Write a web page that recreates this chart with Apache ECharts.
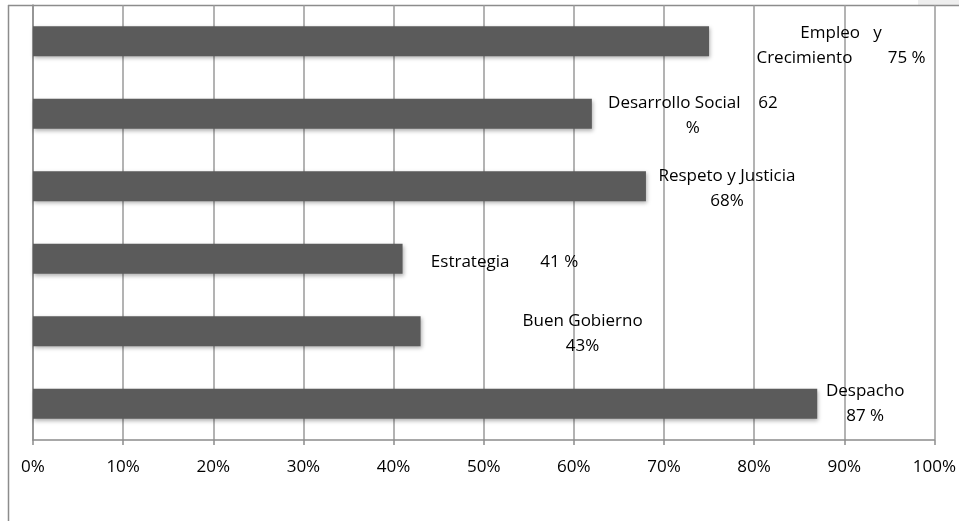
<!DOCTYPE html>
<html>
<head>
<meta charset="utf-8">
<style>
  html, body { margin: 0; padding: 0; background: #ffffff; }
  #chart { width: 959px; height: 521px; }
</style>
<script src="https://cdn.jsdelivr.net/npm/echarts@6/dist/echarts.min.js"></script>
</head>
<body>
<div id="chart"></div>
<script>
// Programme areas, listed top to bottom
const categories = ['Empleo y Crecimiento', 'Desarrollo Social', 'Respeto y Justicia', 'Estrategia', 'Buen Gobierno', 'Despacho'];
// Share of progress per area (percent)
const values = [75, 62, 68, 41, 43, 87];
// Label wording per bar; {v} is replaced by the bar's value
const labelTemplates = [
  'Empleo   y\nCrecimiento        {v} %',
  'Desarrollo Social    {v}\n%',
  'Respeto y Justicia\n{v}%',
  'Estrategia       {v} %',
  'Buen Gobierno\n{v}%',
  'Despacho\n{v} %'
];
// Value-axis ticks (percent)
const tickValues = [0, 10, 20, 30, 40, 50, 60, 70, 80, 90, 100];

// Label placement relative to each bar's end: [dx, dy]
const labelOffsets = [[132, 4], [101, 2], [81, 2], [102, 3], [162, 2], [48, 0]];

const FONT = '"Open Sans", "Noto Sans", sans-serif';
const chart = echarts.init(document.getElementById('chart'), null, { renderer: 'canvas' });

const seriesData = values.map((v, i) => ({
  value: v,
  label: {
    offset: labelOffsets[i],
    formatter: labelTemplates[i].replace('{v}', String(v))
  }
}));

chart.setOption({
  animation: false,
  backgroundColor: '#ffffff',
  grid: { left: 33, right: 19, top: 5, bottom: 81, containLabel: false },
  xAxis: {
    type: 'value',
    min: tickValues[0],
    max: tickValues[tickValues.length - 1],
    interval: tickValues[1] - tickValues[0],
    axisLine: { show: true, lineStyle: { color: '#8c8c8c', width: 1.5 } },
    axisTick: { show: true, length: 5, lineStyle: { color: '#8c8c8c', width: 1.5 } },
    splitLine: { show: true, lineStyle: { color: '#9a9a9a', width: 1.5 } },
    axisLabel: {
      formatter: '{value}%',
      color: '#000000',
      fontFamily: FONT,
      fontSize: 17,
      margin: 19
    }
  },
  yAxis: {
    type: 'category',
    data: categories,
    inverse: true,
    axisLine: { show: true, lineStyle: { color: '#8c8c8c', width: 1.5 } },
    axisTick: { show: false },
    axisLabel: { show: false },
    splitLine: { show: false }
  },
  series: [{
    type: 'bar',
    data: seriesData,
    barWidth: 30,
    itemStyle: {
      color: '#5b5b5b',
      shadowColor: 'rgba(0,0,0,0.30)',
      shadowBlur: 4,
      shadowOffsetX: 1,
      shadowOffsetY: 2
    },
    label: {
      show: true,
      position: 'right',
      distance: 0,
      align: 'center',
      verticalAlign: 'middle',
      color: '#000000',
      fontFamily: FONT,
      fontSize: 17,
      lineHeight: 25
    }
  }],
  graphic: [
    { type: 'rect', shape: { x: 918, y: 0, width: 41, height: 5 }, style: { fill: '#eeeeee' }, silent: true },
    { type: 'line', shape: { x1: 8, y1: 5.5, x2: 959, y2: 5.5 }, style: { stroke: '#8c8c8c', lineWidth: 1.5 }, silent: true },
    { type: 'line', shape: { x1: 8.5, y1: 5, x2: 8.5, y2: 521 }, style: { stroke: '#8c8c8c', lineWidth: 1.5 }, silent: true }
  ]
});
</script>
</body>
</html>
